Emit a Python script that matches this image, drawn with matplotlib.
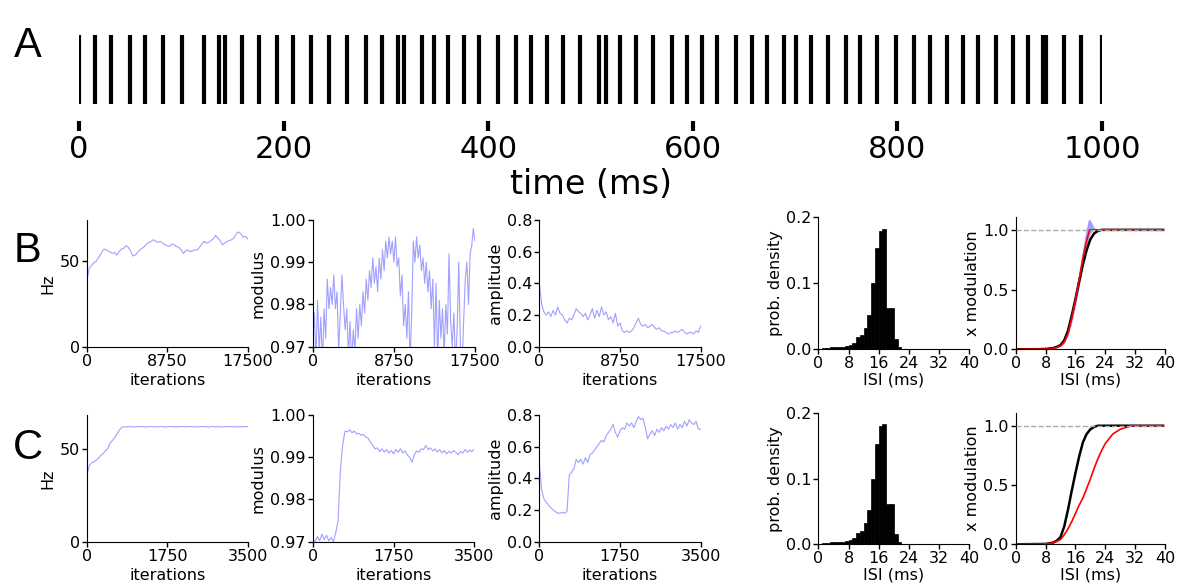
import numpy as np
import matplotlib
matplotlib.use("Agg")
import matplotlib.pyplot as plt
from matplotlib.ticker import FormatStrFormatter

# spike times of the raster (ms)
spikes = [0, 15.6, 30.9, 49.8, 64.8, 81.8, 100.9, 122.2, 136.8, 143.0, 159.0, 175.9,
          193.8, 208.9, 226.8, 244.7, 261.7, 280.6, 296.3, 312.2, 318.1, 335, 347, 361,
          376.6, 391.3, 409.3, 427.2, 441.8, 457.2, 472.8, 490, 508.3, 514.9, 529.1,
          544.2, 561.4, 579.4, 594, 609.3, 623.4, 642.2, 657.6, 672.2, 689.4, 700.5,
          715.5, 731.8, 749.7, 763.4, 780.3, 798.3, 816.2, 831.8, 848.7, 863.7, 878.4,
          896, 912.6, 927.9, 942, 945, 962.4, 979.7, 1000]

# row B, training traces over 17500 iterations
hz_b = [39, 46, 47.5, 49, 50, 52, 54, 56.5, 57, 56, 55.5, 54.5, 55, 53.5, 55.5, 57,
        57.5, 59, 58, 56, 53, 53.5, 55, 56.5, 57.5, 58.5, 60, 61, 61.5, 62.5, 61.5, 61,
        61.5, 60.5, 59.5, 59, 58.5, 60, 59.5, 58.5, 58, 56.5, 54.5, 56, 56.5, 55.5, 56,
        56.5, 56.5, 58, 60, 61.5, 60.5, 61, 62, 63, 65, 63.5, 62, 59.5, 60.5, 61.5, 62,
        62.5, 63.5, 66, 67, 66, 64, 64.5, 63]
mod_b = [0.9700, 0.9780, 0.9670, 0.9810, 0.9690, 0.9770, 0.9660, 0.9790, 0.9720, 0.9860,
         0.9790, 0.9840, 0.9800, 0.9870, 0.9790, 0.9830, 0.9690, 0.9780, 0.9870, 0.9800,
         0.9740, 0.9790, 0.9680, 0.9760, 0.9660, 0.9740, 0.9690, 0.9790, 0.9720, 0.9800,
         0.9750, 0.9830, 0.9780, 0.9860, 0.9810, 0.9880, 0.9840, 0.9910, 0.9850, 0.9890,
         0.9830, 0.9910, 0.9860, 0.9930, 0.9880, 0.9950, 0.9910, 0.9960, 0.9920, 0.9950,
         0.9900, 0.9960, 0.9890, 0.9910, 0.9820, 0.9870, 0.9750, 0.9800, 0.9720, 0.9830,
         0.9660, 0.9780, 0.9950, 0.9900, 0.9960, 0.9910, 0.9940, 0.9880, 0.9910, 0.9850,
         0.9900, 0.9830, 0.9880, 0.9790, 0.9860, 0.9700, 0.9850, 0.9660, 0.9810, 0.9720,
         0.9790, 0.9680, 0.9800, 0.9730, 0.9920, 0.9760, 0.9700, 0.9780, 0.9660, 0.9740,
         0.9900, 0.9700, 0.9650, 0.9760, 0.9860, 0.9900, 0.9800, 0.9920, 0.9940, 0.9980,
         0.9950]
amp_b = [0.40, 0.27, 0.22, 0.20, 0.22, 0.19, 0.23, 0.20, 0.25, 0.21, 0.20, 0.17, 0.15,
         0.18, 0.17, 0.20, 0.24, 0.22, 0.21, 0.19, 0.21, 0.17, 0.20, 0.24, 0.18, 0.23,
         0.19, 0.25, 0.20, 0.22, 0.17, 0.19, 0.15, 0.21, 0.13, 0.15, 0.10, 0.09, 0.10,
         0.09, 0.10, 0.12, 0.15, 0.18, 0.14, 0.13, 0.14, 0.12, 0.13, 0.14, 0.12, 0.11,
         0.12, 0.10, 0.10, 0.09, 0.08, 0.09, 0.09, 0.10, 0.09, 0.10, 0.11, 0.09, 0.08,
         0.09, 0.09, 0.08, 0.10, 0.09, 0.13]

# row C, training traces over 3500 iterations
hz_c = [36, 41, 42.5, 43, 44, 45, 46.5, 47.5, 49, 50, 53, 54.5, 56, 58, 60, 61.5, 62,
        61.8, 62.1, 61.9, 62, 61.8, 62, 62.1, 61.9, 62, 61.8, 62, 62.1, 61.9, 62, 61.9,
        62.1, 62, 61.8, 62, 62.1, 61.9, 62, 61.8, 62, 62.1, 62, 61.9, 62, 62.1, 61.8, 62,
        61.9, 62, 62.1, 61.9, 62, 61.8, 62, 62.1, 61.9, 62, 62, 61.8, 62.1, 61.9, 62, 62,
        61.8, 62.1, 61.9, 62, 61.9, 62.1, 62]
mod_c = [0.9705, 0.9700, 0.9712, 0.9702, 0.9718, 0.9705, 0.9715, 0.9702, 0.9710, 0.9700,
         0.9722, 0.9750, 0.9870, 0.9930, 0.9962, 0.9960, 0.9965, 0.9958, 0.9962, 0.9955,
         0.9957, 0.9952, 0.9954, 0.9948, 0.9945, 0.9935, 0.9928, 0.9920, 0.9922, 0.9913,
         0.9920, 0.9912, 0.9918, 0.9910, 0.9916, 0.9908, 0.9918, 0.9912, 0.9920, 0.9910,
         0.9915, 0.9905, 0.9900, 0.9888, 0.9905, 0.9915, 0.9912, 0.9920, 0.9918, 0.9928,
         0.9918, 0.9922, 0.9915, 0.9920, 0.9912, 0.9918, 0.9910, 0.9916, 0.9908, 0.9914,
         0.9910, 0.9916, 0.9912, 0.9906, 0.9914, 0.9910, 0.9918, 0.9912, 0.9917, 0.9913,
         0.9920]
amp_c = [0.50, 0.33, 0.27, 0.25, 0.23, 0.215, 0.20, 0.19, 0.18, 0.18, 0.185, 0.18, 0.19,
         0.42, 0.44, 0.46, 0.52, 0.50, 0.52, 0.49, 0.53, 0.50, 0.55, 0.56, 0.58, 0.60,
         0.62, 0.64, 0.63, 0.67, 0.69, 0.71, 0.74, 0.69, 0.66, 0.70, 0.72, 0.71, 0.75,
         0.73, 0.75, 0.72, 0.76, 0.79, 0.77, 0.78, 0.72, 0.65, 0.68, 0.70, 0.67, 0.71,
         0.69, 0.72, 0.70, 0.73, 0.71, 0.74, 0.72, 0.75, 0.71, 0.74, 0.72, 0.76, 0.73,
         0.77, 0.75, 0.74, 0.76, 0.71, 0.71]

# ISI histogram (1 ms bins, left edges) - same for B and C
isi_edges = list(range(22))
isi_dens = [0.0, 0.002, 0.002, 0.003, 0.003, 0.004, 0.004, 0.005, 0.007, 0.010, 0.018,
            0.021, 0.033, 0.052, 0.100, 0.153, 0.180, 0.183, 0.062, 0.062, 0.015, 0.003]

# cumulative "x modulation" curves
blk_b_x = [0, 6, 8, 10, 11, 12, 13, 14, 15, 16, 17, 18, 19, 20, 21, 22, 23, 39.5]
blk_b_y = [0, 0.001, 0.003, 0.01, 0.02, 0.035, 0.075, 0.155, 0.28, 0.42, 0.57, 0.71,
           0.83, 0.92, 0.97, 0.99, 1.0, 1.0]
red_b_x = [0, 8, 10, 11, 12, 13, 14, 15, 16, 17, 18, 19, 19.8, 39.5]
red_b_y = [0, 0.002, 0.008, 0.015, 0.028, 0.06, 0.13, 0.26, 0.41, 0.58, 0.76, 0.91, 1.0, 1.0]
band_x = [12, 13, 14, 15, 16, 17, 18, 19, 19.5, 20, 20.5, 21, 22]
band_lo = [0.02, 0.05, 0.11, 0.22, 0.36, 0.52, 0.70, 0.86, 0.93, 0.97, 0.99, 1.0, 1.0]
band_hi = [0.03, 0.07, 0.16, 0.31, 0.47, 0.66, 0.85, 1.02, 1.09, 1.08, 1.05, 1.02, 1.0]
blk_c_x = [0, 8, 10, 11, 12, 13, 14, 15, 16, 17, 18, 19, 20, 21, 22, 39.5]
blk_c_y = [0, 0.003, 0.014, 0.03, 0.06, 0.15, 0.29, 0.45, 0.60, 0.74, 0.86, 0.93, 0.97,
           0.99, 1.0, 1.0]
red_c_x = [0, 8, 10, 12, 13, 14, 15, 16, 17, 18, 19, 20, 21, 22, 23, 24, 25, 26, 27, 28,
           29, 30, 31, 39.5]
red_c_y = [0, 0.003, 0.012, 0.04, 0.08, 0.13, 0.19, 0.26, 0.33, 0.39, 0.47, 0.55, 0.64,
           0.72, 0.79, 0.85, 0.89, 0.93, 0.95, 0.97, 0.98, 0.99, 1.0, 1.0]

W, H = 1193, 585
fig = plt.figure(figsize=(W / 100, H / 100), dpi=100)
trace_col = '#a0a0ff'
fs = 11.5


def px_axes(l, r, t, b):
    return fig.add_axes([l / W, 1 - b / H, (r - l) / W, (b - t) / H])


def clean(ax):
    ax.spines['top'].set_visible(False)
    ax.spines['right'].set_visible(False)
    ax.tick_params(direction='out', length=3.5, width=1, labelsize=fs, pad=1.5)


# --- A: spike raster
ax = px_axes(79, 1102, 35, 104)
ax.vlines(spikes, 0, 1, color='k', lw=3)
ax.set_xlim(0, 1000)
ax.set_ylim(0, 1)
for s in ['top', 'right', 'left']:
    ax.spines[s].set_visible(False)
ax.spines['bottom'].set_position(('outward', 12))
ax.spines['bottom'].set_color('none')
ax.set_yticks([])
ax.set_xticks([0, 200, 400, 600, 800, 1000])
ax.tick_params(axis='x', length=7, width=3, labelsize=22, pad=3, color='k')
ax.set_xlabel('time (ms)', fontsize=24, labelpad=3)


def trace_panel(rect, vals, total, ylabel, ylim, yticks, fmt):
    ax = px_axes(*rect)
    it = np.linspace(0, total, len(vals))
    ax.plot(it, vals, color=trace_col, lw=0.8)
    ax.set_xlim(0, total)
    ax.set_ylim(*ylim)
    ax.set_xticks([0, total / 2, total])
    ax.set_xticklabels(['0', f'{total // 2}', f'{total}'])
    ax.set_yticks(yticks)
    if fmt:
        ax.yaxis.set_major_formatter(FormatStrFormatter(fmt))
    ax.set_ylabel(ylabel, fontsize=fs, labelpad=3)
    ax.set_xlabel('iterations', fontsize=fs, labelpad=3)
    clean(ax)
    return ax


def hist_panel(rect):
    ax = px_axes(*rect)
    ax.bar(isi_edges, isi_dens, width=1, align='edge', color='k', edgecolor='k', lw=0.5)
    ax.set_xlim(0, 40)
    ax.set_ylim(0, 0.2)
    ax.set_xticks([0, 8, 16, 24, 32, 40])
    ax.set_yticks([0.0, 0.1, 0.2])
    ax.yaxis.set_major_formatter(FormatStrFormatter('%.1f'))
    ax.set_ylabel('prob. density', fontsize=fs, labelpad=2)
    ax.set_xlabel('ISI (ms)', fontsize=fs, labelpad=1)
    clean(ax)


def cdf_panel(rect, bx, by, rx, ry, band=None):
    ax = px_axes(*rect)
    if band is not None:
        ax.fill_between(band[0], band[1], band[2], color=trace_col, lw=0)
    ax.axhline(1.0, color='#aaaaaa', ls='--', lw=1, zorder=5)
    ax.plot(bx, by, color='k', lw=1.8)
    ax.plot(rx, ry, color='r', lw=1.2)
    ax.set_xlim(0, 40)
    ax.set_ylim(0, 1.11)
    ax.set_xticks([0, 8, 16, 24, 32, 40])
    ax.set_yticks([0.0, 0.5, 1.0])
    ax.yaxis.set_major_formatter(FormatStrFormatter('%.1f'))
    ax.set_ylabel('x modulation', fontsize=fs, labelpad=2)
    ax.set_xlabel('ISI (ms)', fontsize=fs, labelpad=1)
    clean(ax)


# --- B
trace_panel((87, 247.7, 220, 346.7), hz_b, 17500, 'Hz', (0, 74), [0, 50], None)
trace_panel((312.7, 475, 220, 346.7), mod_b, 17500, 'modulus', (0.97, 1.0),
            [0.97, 0.98, 0.99, 1.0], '%.2f')
trace_panel((539.3, 700.7, 220, 346.7), amp_b, 17500, 'amplitude', (0, 0.8),
            [0, 0.2, 0.4, 0.6, 0.8], '%.1f')
hist_panel((818.3, 969.3, 217.3, 349.3))
cdf_panel((1015.7, 1165, 216.7, 349.3), blk_b_x, blk_b_y, red_b_x, red_b_y,
          band=(band_x, band_lo, band_hi))

# --- C
trace_panel((87, 247.7, 415, 541.7), hz_c, 3500, 'Hz', (0, 68.3), [0, 50], None)
trace_panel((312.7, 474.3, 415, 541.7), mod_c, 3500, 'modulus', (0.97, 1.0),
            [0.97, 0.98, 0.99, 1.0], '%.2f')
trace_panel((539.3, 700.7, 415, 541.7), amp_c, 3500, 'amplitude', (0, 0.8),
            [0, 0.2, 0.4, 0.6, 0.8], '%.1f')
hist_panel((818.3, 969.3, 413.3, 544.3))
cdf_panel((1015.7, 1165, 412.7, 544.3), blk_c_x, blk_c_y, red_c_x, red_c_y)

# panel letters
for letter, x, y in [('A', 28, 46), ('B', 27.5, 251), ('C', 27.5, 448)]:
    fig.text(x / W, 1 - y / H, letter, fontsize=30, family='Liberation Sans',
             ha='center', va='center')

fig.savefig('out.png', dpi=100)
